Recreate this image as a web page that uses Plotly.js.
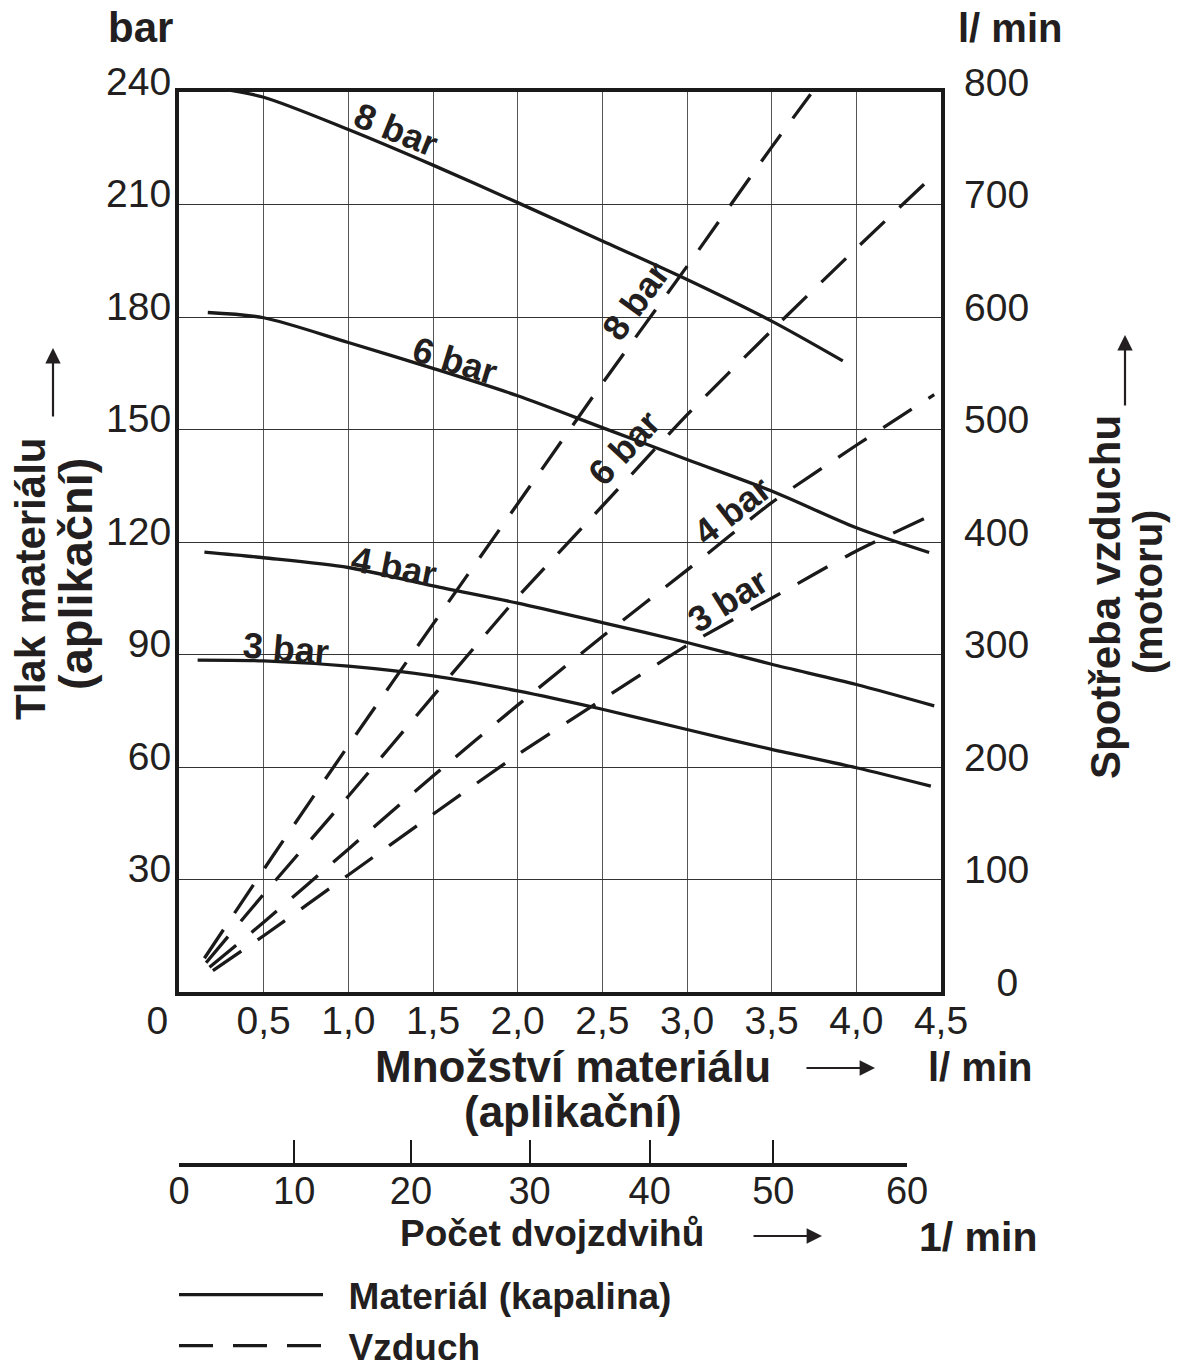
<!DOCTYPE html>
<html><head><meta charset="utf-8">
<script src="https://cdn.plot.ly/plotly-3.0.1.min.js"></script>
<style>body{margin:0;background:#fff}</style>
</head><body>
<div id="chart" style="width:1177px;height:1367px"></div>
<script>
// ---------- data ----------
const flowTicks = [0, 0.5, 1, 1.5, 2, 2.5, 3, 3.5, 4, 4.5];
const flowTickText = ["0\u00a0\u00a0\u00a0\u00a0", "0,5", "1,0", "1,5", "2,0", "2,5", "3,0", "3,5", "4,0", "4,5"];
const pressureTicks = [30, 60, 90, 120, 150, 180, 210, 240];
const airTicks = [0, 100, 200, 300, 400, 500, 600, 700, 800];
const airTickText = ["\u00a0\u00a0\u00a00", "100", "200", "300", "400", "500", "600", "700", "800"];
const strokeTicks = [0, 10, 20, 30, 40, 50, 60];
const strokeFlow = [0, 0.68, 1.37, 2.07, 2.78, 3.51, 4.30];   // l/min matching each stroke rate

// material pressure curves (bar) vs material flow (l/min)
const mat8Flow = [0.23, 0.5, 1.0, 1.5, 2.0, 2.5, 3.0, 3.5, 3.92];
const mat8Pres = [241, 238.6, 230, 220.5, 210.5, 200.3, 190, 178.9, 168.3];
const mat6Flow = [0.17, 0.5, 1.0, 1.5, 2.0, 2.5, 3.0, 3.5, 4.0, 4.43];
const mat6Pres = [181.2, 179.8, 173.2, 166.3, 159, 150.5, 142, 133.6, 123.8, 117.2];
const mat4Flow = [0.15, 0.5, 1.0, 1.5, 2.0, 2.5, 3.0, 3.5, 4.0, 4.46];
const mat4Pres = [117.3, 115.8, 113.2, 108.3, 103.7, 98.5, 93.2, 87.4, 82, 76.3];
const mat3Flow = [0.11, 0.5, 1.0, 1.5, 2.0, 2.5, 3.0, 3.5, 4.0, 4.44];
const mat3Pres = [88.5, 88.3, 86.9, 84.3, 80.3, 75.4, 70, 64.7, 59.8, 54.9];

// air consumption (l/min) vs material flow (l/min)
const air8Flow = [0.15, 0.55, 1.0, 1.5, 2.0, 2.5, 3.0, 3.5, 3.73];
const air8Cons = [30, 120, 219, 327, 434, 541, 645, 751, 798];
const air6Flow = [0.16, 0.5, 1.0, 1.5, 2.0, 2.5, 3.0, 3.5, 4.0, 4.4];
const air6Cons = [26, 87, 174, 263, 351, 432, 513, 588, 661, 718];
const air4Flow = [0.18, 0.5, 1.0, 1.5, 2.0, 2.5, 3.0, 3.5, 4.0, 4.46];
const air4Cons = [22, 62, 127, 192, 255, 316, 375, 435, 486, 531];
const air3Flow = [0.2, 0.5, 1.0, 1.5, 2.0, 2.5, 3.0, 3.5, 4.0, 4.46];
const air3Cons = [19, 50, 104, 158, 211, 260, 308, 350, 392, 425];

const seriesLabels = ["8 bar", "6 bar", "4 bar", "3 bar"];
const legendNames = ["Materiál (kapalina)", "Vzduch"];

// ---------- layout helpers ----------
const W = 1177, H = 1367, L = 179, R = 236, T = 92, B = 204;
const PW = W - L - R, PH = H - T - B;
const px = x => (x - L) / PW;
const py = y => (H - B - y) / PH;
const FONT = "Liberation Sans, Arial, Helvetica, sans-serif";
const INK = "#231f20";
const xMax = 4.5;
const NB = "\u00a0\u00a0";

const matSets = [[mat8Flow, mat8Pres], [mat6Flow, mat6Pres], [mat4Flow, mat4Pres], [mat3Flow, mat3Pres]];
const airSets = [[air8Flow, air8Cons], [air6Flow, air6Cons], [air4Flow, air4Cons], [air3Flow, air3Cons]];

const traces = [];
matSets.forEach((s, i) => traces.push({
  x: s[0], y: s[1], type: "scatter", mode: "lines",
  line: {color: "#1a1a1a", width: 3.3, shape: "spline", smoothing: 0.8},
  name: "<b>" + NB + legendNames[0] + "</b>", showlegend: i === 0, hoverinfo: "skip",
  xaxis: "x", yaxis: "y"
}));
airSets.forEach((s, i) => traces.push({
  x: s[0], y: s[1], type: "scatter", mode: "lines",
  line: {color: "#1a1a1a", width: 3.3, dash: "34px,20px", shape: "spline", smoothing: 0.6},
  name: "<b>" + NB + legendNames[1] + "</b>", showlegend: i === 0, hoverinfo: "skip",
  xaxis: "x", yaxis: "y2"
}));
// carrier for the stroke-rate axis
traces.push({x: strokeFlow, y: strokeFlow.map(() => 0), type: "scatter", mode: "none",
  xaxis: "x2", yaxis: "y3", showlegend: false, hoverinfo: "skip"});

const ann = [];
function txt(text, x, y, size, opts) {
  ann.push(Object.assign({text: text, xref: "paper", yref: "paper", x: px(x), y: py(y),
    xanchor: "center", yanchor: "middle", showarrow: false,
    font: {family: FONT, size: size, color: INK}}, opts || {}));
}
function arrow(hx, hy, ax, ay) {
  ann.push({text: "", xref: "paper", yref: "paper", x: px(hx), y: py(hy), ax: ax, ay: ay,
    showarrow: true, arrowhead: 2, arrowsize: 1.4, arrowwidth: 2.2, arrowcolor: INK});
}
txt("<b>bar</b>", 140, 28, 42);
txt("<b>l/ min</b>", 1010, 28, 40);
txt("<b>Tlak materiálu</b>", 30, 579, 42, {textangle: -90});
txt("<b>(aplikační)</b>", 75, 574, 47, {textangle: -90});
arrow(53, 348, 0, 70);
txt("<b>Spotřeba vzduchu</b>", 1105, 597, 42, {textangle: -90});
txt("<b>(motoru)</b>", 1148, 592, 40, {textangle: -90});
arrow(1125, 335, 0, 72);
txt("<b>Množství materiálu</b>", 573, 1066, 44);
txt("<b>(aplikační)</b>", 573, 1111, 44);
arrow(875, 1068, -70, 0);
txt("<b>l/ min</b>", 980, 1067, 40);
txt("<b>Počet dvojzdvihů</b>", 552, 1233, 37);
arrow(822, 1236, -70, 0);
txt("<b>1/ min</b>", 978, 1237, 41);

// curve labels (data coordinates)
const matLabelPos = [[1.28, 230, 22], [1.63, 168.4, 17], [1.27, 113.5, 11], [0.63, 91.5, 5]];
const airLabelPos = [[2.70, 184.3, -54], [2.63, 145.2, -47], [3.266, 128.5, -38], [3.24, 104.3, -32]];
matLabelPos.forEach((p, i) => ann.push({text: "<b>" + seriesLabels[i] + "</b>", xref: "x", yref: "y",
  x: p[0], y: p[1], textangle: p[2], showarrow: false, xanchor: "center", yanchor: "middle",
  font: {family: FONT, size: 36, color: INK}}));
airLabelPos.forEach((p, i) => ann.push({text: "<b>" + seriesLabels[i] + "</b>", xref: "x", yref: "y",
  x: p[0], y: p[1], textangle: p[2], showarrow: false, xanchor: "center", yanchor: "middle",
  font: {family: FONT, size: 36, color: INK}}));

const tickFont = {family: FONT, size: 39, color: INK};
const layout = {
  width: W, height: H,
  margin: {l: L, r: R, t: T, b: B, pad: 0, autoexpand: false},
  paper_bgcolor: "#fff", plot_bgcolor: "#fff",
  showlegend: true,
  legend: {x: px(174), y: py(1264), xanchor: "left", yanchor: "top", orientation: "v",
    traceorder: "normal", itemwidth: 144, font: {family: FONT, size: 37, color: INK},
    bgcolor: "rgba(0,0,0,0)", borderwidth: 0, itemclick: false},
  xaxis: {range: [0, xMax], domain: [0, 1], tickvals: flowTicks, ticktext: flowTickText,
    showgrid: true, gridcolor: "#555", gridwidth: 1, zeroline: false,
    showline: true, linewidth: 4, linecolor: "#1a1a1a", mirror: true, ticks: "",
    tickfont: tickFont, ticklabelstandoff: -9, anchor: "y", automargin: false},
  yaxis: {range: [0, 240], domain: [(H - B - 992) / PH, 1], tickvals: pressureTicks,
    showgrid: true, gridcolor: "#333", gridwidth: 1, zeroline: false,
    showline: true, linewidth: 4, linecolor: "#1a1a1a", mirror: true, ticks: "",
    tickfont: tickFont, ticklabelshift: -11, ticklabelstandoff: -4, automargin: false},
  yaxis2: {range: [0, 800], overlaying: "y", side: "right", tickvals: airTicks, ticktext: airTickText,
    showgrid: false, zeroline: false, showline: false, ticks: "",
    tickfont: tickFont, ticklabelshift: -10, ticklabelstandoff: 22, automargin: false},
  xaxis2: {range: [0, strokeFlow[strokeFlow.length - 1]],
    domain: [0, strokeFlow[strokeFlow.length - 1] / xMax], anchor: "y3",
    tickvals: strokeFlow, ticktext: strokeTicks.map(String),
    showgrid: false, zeroline: false, showline: true, linewidth: 4, linecolor: "#1a1a1a",
    ticks: "inside", ticklen: 23, tickwidth: 2, tickcolor: "#1a1a1a",
    tickfont: {family: FONT, size: 38, color: INK}, ticklabelstandoff: -9, automargin: false},
  yaxis3: {domain: [0, 0.001], visible: false, range: [0, 1], fixedrange: true},
  annotations: ann
};
Plotly.newPlot("chart", traces, layout, {displayModeBar: false, staticPlot: true});
</script>
</body></html>
